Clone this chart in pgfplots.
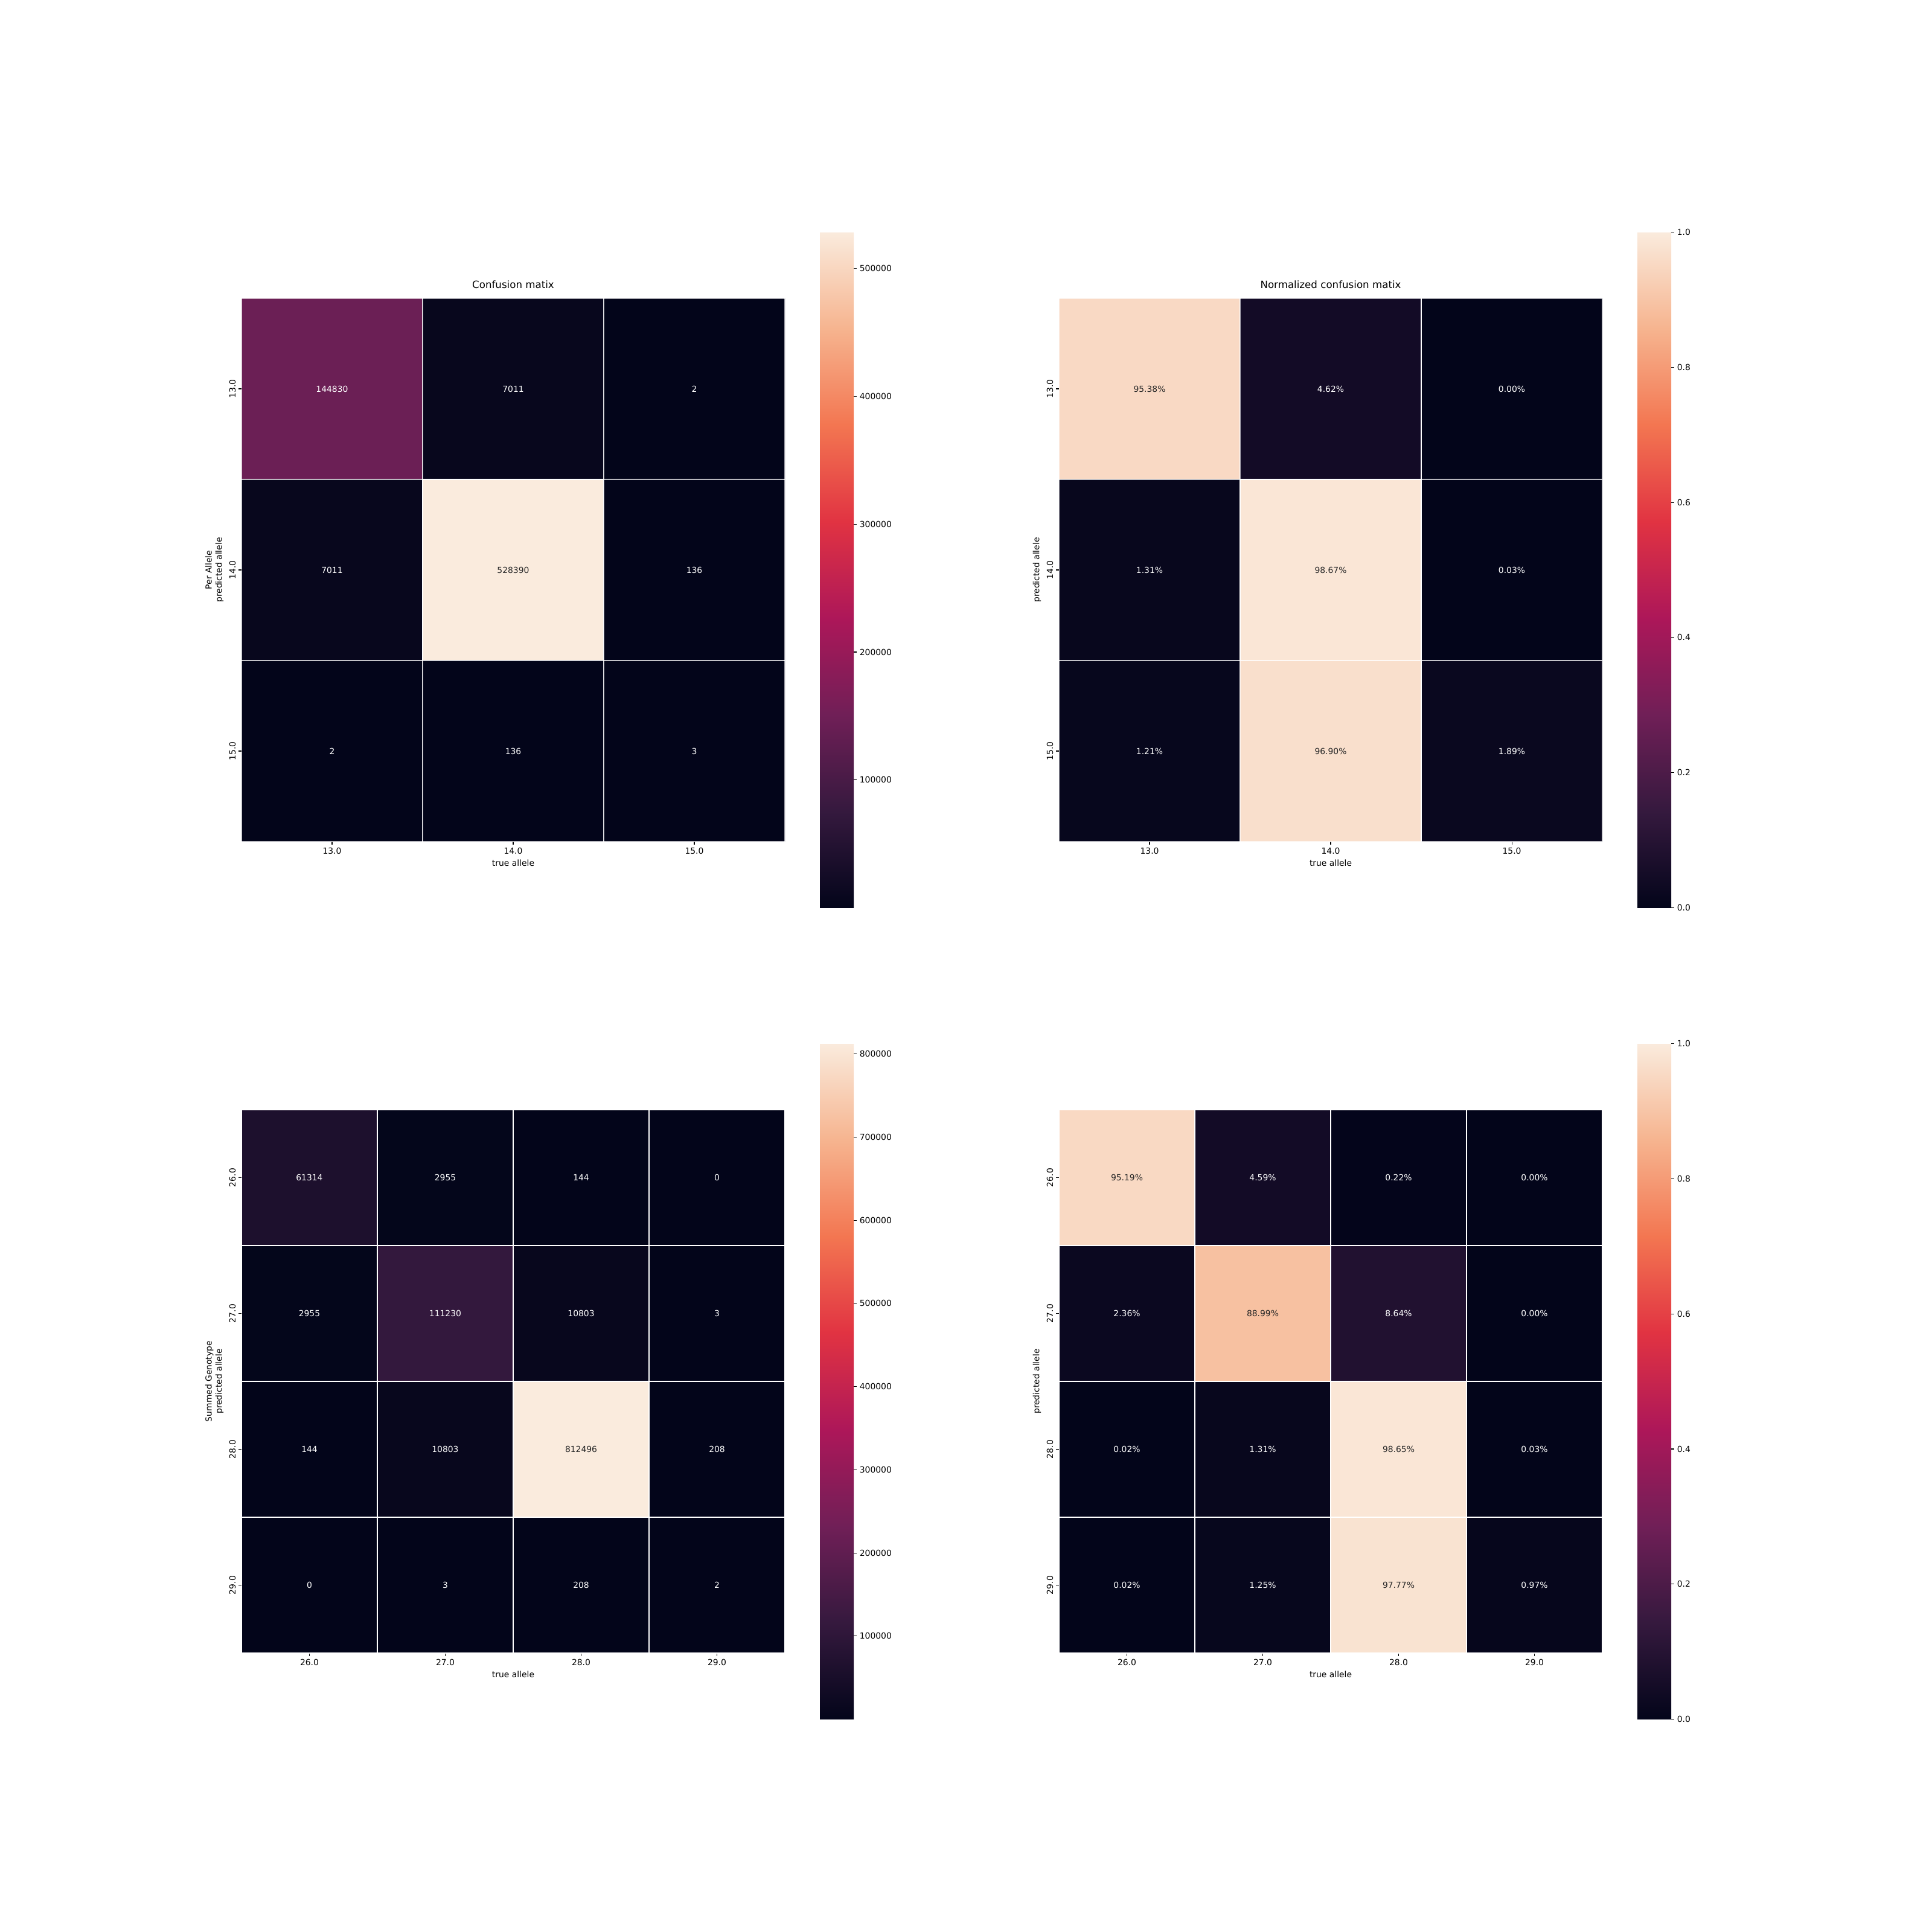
\documentclass[border=0pt]{standalone}
\usepackage{fontspec}
\setmainfont{DejaVu Sans}
\usepackage{pgfplots}
\pgfplotsset{compat=1.18}

% seaborn "rocket"
\pgfplotsset{
  colormap={rocket}{rgb255=(3,5,26) rgb255=(53,25,62) rgb255=(112,31,87) rgb255=(173,23,89)
    rgb255=(225,51,66) rgb255=(243,118,81) rgb255=(246,180,143) rgb255=(250,235,221)},
}
\pgfkeys{/pgf/number format/assume math mode=true}

\pgfplotsset{
  hm/.style={
    width=648pt, height=648pt, scale only axis, anchor=south west,
    axis line style={draw=none},
    y dir=reverse, enlargelimits=false,
    tick align=outside, major tick length=3.5pt,
    tick style={black, line width=0.8pt},
    xtick pos=bottom, ytick pos=left,
    yticklabel style={rotate=90, anchor=south},
    ylabel style={align=center},
    xlabel={true allele},
    title style={at={(0.5,1)}, anchor=base, yshift=6pt, font=\fontsize{12}{14.4}\selectfont},
    colormap name=rocket,
    colorbar,
    colorbar/width=40.3pt,
    colorbar style={
      at={(parent axis.east)}, anchor=west, xshift=33.3pt,
      width=40.3pt, height=805.7pt, scale only axis,
      axis line style={draw=none},
      tick align=outside, major tick length=3.5pt,
      tick style={black, line width=0.8pt},
      ytick pos=right, scaled y ticks=false,
    },
  },
  cells/.style={matrix plot*, shader=faceted, faceted color=white, draw=white,
    line width=1pt, point meta=explicit, mesh/cols=#1},
  lbl/.style={only marks, mark=none, point meta=explicit symbolic, nodes near coords,
    nodes near coords style={anchor=center, font=\fontsize{10}{12}\selectfont, text=#1}},
}
\definecolor{darktext}{HTML}{262626}

\begin{document}
\begin{tikzpicture}
\useasboundingbox (0,0) rectangle (2304pt,2304pt);

% ---------- counts, per allele ----------
\begin{axis}[hm, at={(288pt,1300.3pt)},
  xmin=-0.5, xmax=2.5, ymin=-0.5, ymax=2.5,
  xtick={0,1,2}, ytick={0,1,2},
  xticklabels={13.0,14.0,15.0}, yticklabels={13.0,14.0,15.0},
  title={Confusion matix}, ylabel={Per Allele\\predicted allele},
  point meta min=2, point meta max=528390,
  colorbar style={ytick={100000,200000,300000,400000,500000},
    yticklabel style={/pgf/number format/.cd, fixed, 1000 sep={}}}]
\addplot[cells=3] table[meta=c, row sep=\\] {
x y c \\
0 0 144830 \\ 1 0 7011 \\ 2 0 2 \\
0 1 7011 \\ 1 1 528390 \\ 2 1 136 \\
0 2 2 \\ 1 2 136 \\ 2 2 3 \\
};
\addplot[lbl=white] table[meta=t, row sep=\\] {
x y t \\
0 0 144830 \\ 1 0 7011 \\ 2 0 2 \\
0 1 7011 \\ 2 1 136 \\
0 2 2 \\ 1 2 136 \\ 2 2 3 \\
};
\addplot[lbl=darktext] table[meta=t, row sep=\\] {
x y t \\
1 1 528390 \\
};
\end{axis}

% ---------- normalized, per allele ----------
\begin{axis}[hm, at={(1262.9pt,1300.3pt)},
  xmin=-0.5, xmax=2.5, ymin=-0.5, ymax=2.5,
  xtick={0,1,2}, ytick={0,1,2},
  xticklabels={13.0,14.0,15.0}, yticklabels={13.0,14.0,15.0},
  title={Normalized confusion matix}, ylabel={predicted allele},
  point meta min=0, point meta max=1,
  colorbar style={ytick={0,0.2,0.4,0.6,0.8,1},
    yticklabel style={/pgf/number format/.cd, fixed, fixed zerofill, precision=1}}]
\addplot[cells=3] table[meta=c, row sep=\\] {
x y c \\
0 0 0.9538 \\ 1 0 0.0462 \\ 2 0 0.0000 \\
0 1 0.0131 \\ 1 1 0.9867 \\ 2 1 0.0003 \\
0 2 0.0121 \\ 1 2 0.9690 \\ 2 2 0.0189 \\
};
\addplot[lbl=white] table[meta=t, row sep=\\] {
x y t \\
1 0 4.62\% \\ 2 0 0.00\% \\
0 1 1.31\% \\ 2 1 0.03\% \\
0 2 1.21\% \\ 2 2 1.89\% \\
};
\addplot[lbl=darktext] table[meta=t, row sep=\\] {
x y t \\
0 0 95.38\% \\ 1 1 98.67\% \\ 1 2 96.90\% \\
};
\end{axis}

% ---------- counts, summed genotype ----------
\begin{axis}[hm, at={(288pt,332.6pt)},
  xmin=-0.5, xmax=3.5, ymin=-0.5, ymax=3.5,
  xtick={0,1,2,3}, ytick={0,1,2,3},
  xticklabels={26.0,27.0,28.0,29.0}, yticklabels={26.0,27.0,28.0,29.0},
  ylabel={Summed Genotype\\predicted allele},
  point meta min=0, point meta max=812496,
  colorbar style={ytick={100000,200000,300000,400000,500000,600000,700000,800000},
    yticklabel style={/pgf/number format/.cd, fixed, 1000 sep={}}}]
\addplot[cells=4] table[meta=c, row sep=\\] {
x y c \\
0 0 61314 \\ 1 0 2955 \\ 2 0 144 \\ 3 0 0 \\
0 1 2955 \\ 1 1 111230 \\ 2 1 10803 \\ 3 1 3 \\
0 2 144 \\ 1 2 10803 \\ 2 2 812496 \\ 3 2 208 \\
0 3 0 \\ 1 3 3 \\ 2 3 208 \\ 3 3 2 \\
};
\addplot[lbl=white] table[meta=t, row sep=\\] {
x y t \\
0 0 61314 \\ 1 0 2955 \\ 2 0 144 \\ 3 0 0 \\
0 1 2955 \\ 1 1 111230 \\ 2 1 10803 \\ 3 1 3 \\
0 2 144 \\ 1 2 10803 \\ 3 2 208 \\
0 3 0 \\ 1 3 3 \\ 2 3 208 \\ 3 3 2 \\
};
\addplot[lbl=darktext] table[meta=t, row sep=\\] {
x y t \\
2 2 812496 \\
};
\end{axis}

% ---------- normalized, summed genotype ----------
\begin{axis}[hm, at={(1262.9pt,332.6pt)},
  xmin=-0.5, xmax=3.5, ymin=-0.5, ymax=3.5,
  xtick={0,1,2,3}, ytick={0,1,2,3},
  xticklabels={26.0,27.0,28.0,29.0}, yticklabels={26.0,27.0,28.0,29.0},
  ylabel={predicted allele},
  point meta min=0, point meta max=1,
  colorbar style={ytick={0,0.2,0.4,0.6,0.8,1},
    yticklabel style={/pgf/number format/.cd, fixed, fixed zerofill, precision=1}}]
\addplot[cells=4] table[meta=c, row sep=\\] {
x y c \\
0 0 0.9519 \\ 1 0 0.0459 \\ 2 0 0.0022 \\ 3 0 0.0000 \\
0 1 0.0236 \\ 1 1 0.8899 \\ 2 1 0.0864 \\ 3 1 0.0000 \\
0 2 0.0002 \\ 1 2 0.0131 \\ 2 2 0.9865 \\ 3 2 0.0003 \\
0 3 0.0002 \\ 1 3 0.0125 \\ 2 3 0.9777 \\ 3 3 0.0097 \\
};
\addplot[lbl=white] table[meta=t, row sep=\\] {
x y t \\
1 0 4.59\% \\ 2 0 0.22\% \\ 3 0 0.00\% \\
0 1 2.36\% \\ 2 1 8.64\% \\ 3 1 0.00\% \\
0 2 0.02\% \\ 1 2 1.31\% \\ 3 2 0.03\% \\
0 3 0.02\% \\ 1 3 1.25\% \\ 3 3 0.97\% \\
};
\addplot[lbl=darktext] table[meta=t, row sep=\\] {
x y t \\
0 0 95.19\% \\ 1 1 88.99\% \\ 2 2 98.65\% \\ 2 3 97.77\% \\
};
\end{axis}
\end{tikzpicture}
\end{document}
